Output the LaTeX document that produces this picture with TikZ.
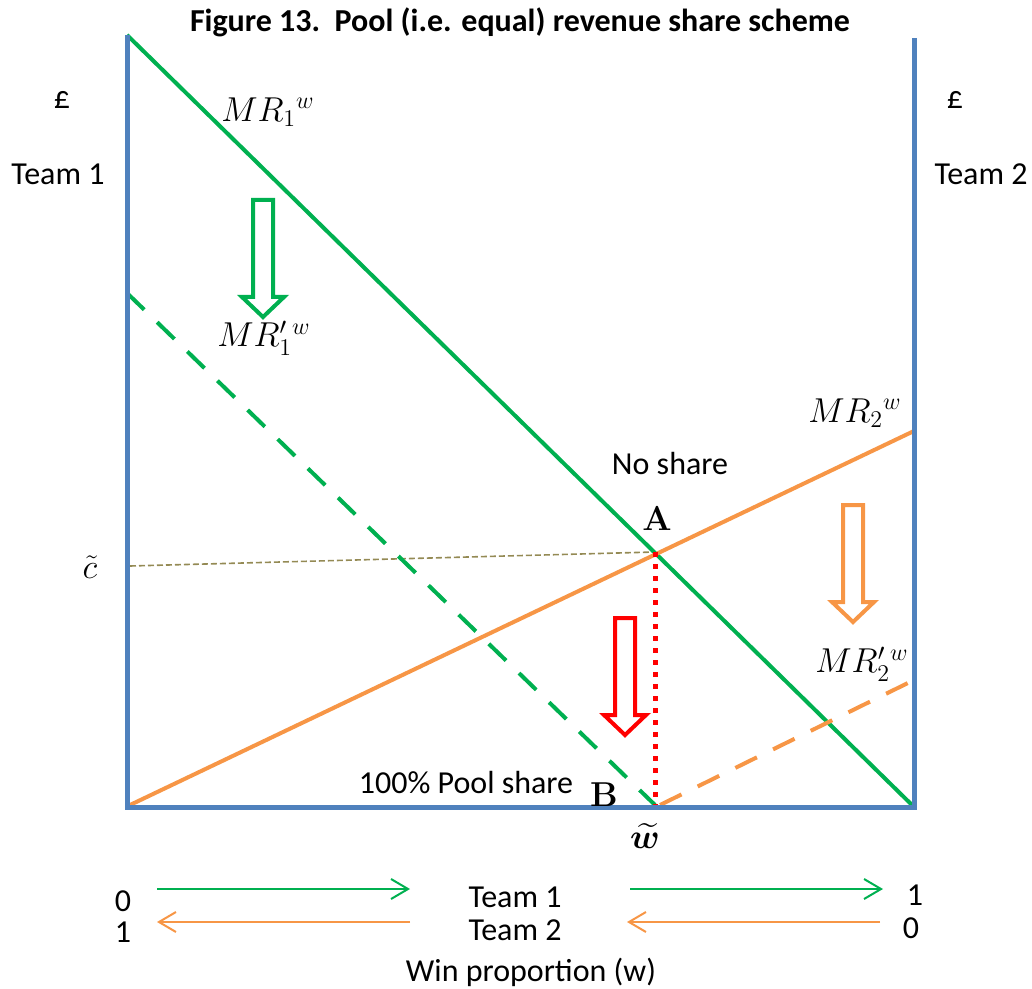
\documentclass[tikz,border=0pt]{standalone}
\usepackage{amsmath,bm}
\usepackage[no-math]{fontspec}
\setmainfont{Carlito}
\usetikzlibrary{arrows.meta}
\definecolor{cgreen}{HTML}{00B050}
\definecolor{corange}{HTML}{F79646}
\definecolor{cblue}{HTML}{4F81BD}
\definecolor{cred}{HTML}{FF0000}
\definecolor{colive}{HTML}{948A54}
\tikzset{
  axis/.style={cblue, line width=2.5pt},
  curve/.style={line width=2pt},
  dashcurve/.style={line width=2pt, dash pattern=on 12pt off 9pt},
  lbl/.style={font=\fontsize{16}{19}\selectfont, inner sep=0pt},
  mlbl/.style={font=\fontsize{18}{21}\selectfont, inner sep=0pt},
  smallarrow/.style={line width=1pt, -{Straight Barb[length=8.5pt,width=10pt]}},
  harrow/.pic={\draw[line width=2pt, line join=miter] (-10,0) -- (10,0) -- (10,97) -- (21,97) -- (0,117) -- (-21,97) -- (-10,97) -- cycle;}
}
\begin{document}
\begin{tikzpicture}[x=0.5pt,y=-0.5pt]
\useasboundingbox (0,0) rectangle (1032,989);
% title
\node[font=\fontsize{16}{19}\selectfont\bfseries, inner sep=0pt] (title) at (520,22) {Figure 13.\ \ Pool (i.e. equal) revenue share scheme};
% coordinates
\coordinate (LT) at (127,35);
\coordinate (LB) at (127,807);
\coordinate (RT) at (914,38);
\coordinate (RB) at (914,807);
\coordinate (G1s) at (127,35);
\coordinate (G1e) at (912,805);
\coordinate (G2s) at (127,293);
\coordinate (B) at (655,805);
\coordinate (O1s) at (130,805);
\coordinate (O1e) at (914,431);
\coordinate (O2s) at (660,805);
\coordinate (O2e) at (914,680);
\coordinate (A) at (655,552);
\coordinate (C) at (130,566);
\coordinate (W) at (655,807);
% olive thin dashed
\draw[colive, line width=0.8pt, dash pattern=on 3pt off 1.5pt] (C) -- (A);
% curves
\draw[cgreen, curve] (G1s) -- (G1e);
\draw[cgreen, dashcurve] (G2s) -- (B);
\draw[corange, curve] (O1s) -- (O1e);
\draw[corange, dashcurve] (O2s) -- (O2e);
% red dotted
\draw[cred, line width=2.5pt, dash pattern=on 2.5pt off 3.5pt] (A) -- (W);
% axes
\draw[axis] (LT) -- (LB) -- (RB) -- (RT);
% hollow arrows
\pic[cgreen] at (263,200) {harrow};
\pic[cred] at (625,618) {harrow};
\pic[corange] at (853,505) {harrow};
% labels
\node[lbl] (p1) at (62,100) {£};
\node[lbl] (p2) at (955,100) {£};
\node[lbl] (t1) at (58,174) {Team 1};
\node[lbl] (t2) at (981,174) {Team 2};
\node[mlbl] (mr1) at (268,112) {$MR_1{}^w$};
\node[mlbl] (mr1p) at (264,338) {$MR'_1{}^w$};
\node[mlbl] (mr2) at (855,413) {$MR_2{}^w$};
\node[mlbl] (mr2p) at (862,664) {$MR'_2{}^w$};
\node[lbl] (ns) at (670,464) {No share};
\node[lbl] (ps) at (466,783) {100\% Pool share};
\node[mlbl] (la) at (657,519) {$\mathbf{A}$};
\node[mlbl] (lb) at (604,795) {$\mathbf{B}$};
\node[mlbl] (lc) at (90,567) {$\tilde{c}$};
\node[mlbl] (lw) at (645,836) {$\widetilde{\bm{w}}$};
% bottom arrows
\coordinate (a1s) at (157,889); \coordinate (a1e) at (410,889);
\coordinate (a2s) at (410,922); \coordinate (a2e) at (157,922);
\coordinate (a3s) at (630,889); \coordinate (a3e) at (883,889);
\coordinate (a4s) at (880,922); \coordinate (a4e) at (627,922);
\draw[cgreen, smallarrow] (a1s) -- (a1e);
\draw[corange, smallarrow] (a2s) -- (a2e);
\draw[cgreen, smallarrow] (a3s) -- (a3e);
\draw[corange, smallarrow] (a4s) -- (a4e);
\node[lbl] (z1) at (123,901) {0};
\node[lbl] (o1) at (123,932) {1};
\node[lbl] (bt1) at (515,897) {Team 1};
\node[lbl] (bt2) at (515,930) {Team 2};
\node[lbl] (o2) at (915,895) {1};
\node[lbl] (z2) at (911,928) {0};
\node[lbl] (wp) at (531,972) {Win proportion (w)};
\end{tikzpicture}
\end{document}
